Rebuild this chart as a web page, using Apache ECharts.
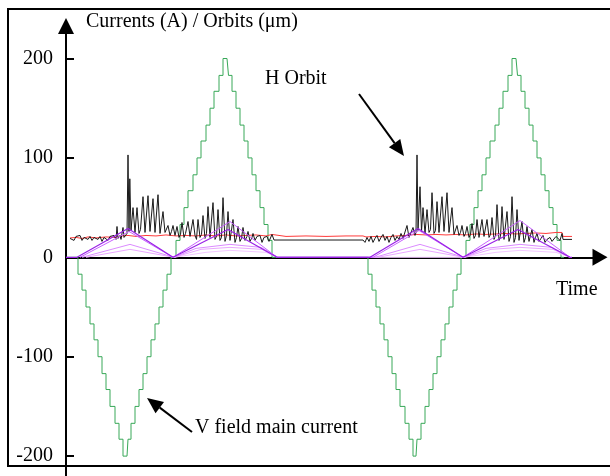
<!DOCTYPE html>
<html>
<head>
<meta charset="utf-8">
<script src="https://cdn.jsdelivr.net/npm/echarts@6/dist/echarts.min.js"></script>
<style>
html,body{margin:0;padding:0;background:#fff;}
#c{width:610px;height:476px;}
</style>
</head>
<body>
<div id="c"></div>
<script>
// ---- data (time in arbitrary units, values in A / µm) ----
const yTicks = [-200, -100, 0, 100, 200];

const vFieldCurrent = [
  [0,0],[12,0],[16,-17],[20,-33],[24,-50],[28,-67],[32,-83],[36,-100],[40,-117],[44,-133],[49,-150],[53,-167],[57,-183],[61,-200],
  [62,-200],[65,-183],[69,-167],[73,-150],[77,-133],[81,-117],[85,-100],[89,-83],[93,-67],[97,-50],[101,-33],[105,-17],[110,0],
  [114,17],[118,33],[122,50],[127,67],[131,83],[135,100],[140,117],[144,133],[148,150],[153,167],[157,183],[161,200],
  [162.5,200],[166,183],[170,167],[174,150],[178,133],[182,117],[186,100],[190,83],[194,67],[198,50],[202,33],[206,17],[211,0],
  [302,0],[306,-17],[310,-33],[314,-50],[318,-67],[322,-83],[326,-100],[330,-117],[334,-133],[339,-150],[343,-167],[347,-183],[350,-200],
  [351,-200],[355,-183],[359,-167],[363,-150],[367,-133],[371,-117],[375,-100],[379,-83],[383,-67],[387,-50],[391,-33],[395,-17],[400,0],
  [404,17],[408,33],[412,50],[416,67],[420,83],[424,100],[429,117],[433,133],[437,150],[442,167],[446,183],[450,200],
  [451.5,200],[455,183],[459,167],[463,150],[467,133],[471,117],[475,100],[479,83],[483,67],[487,50],[491,33],[495,17],[498,0]
];

const hOrbit = [
  [4,19],[6,21],[8,17],[10,21],[12,19],[14,22],[16,17],[18,20],[20,22],[22,18],[24,21],[26,17],[28,20],[30,22],[32,18],[34,21],[36,16],[38,20],[40,22],[42,17],[44,21],[46,19],[48,22],[50,18],
  [51,31],[52,19],[54,22],[55,18],[57,30],[58,20],[60,22],[61,24],
  [62,103],[63,26],[63.8,79],[65,27],[67,50],[69,25],[71,50],[73,24],[74.5,28],[77,61],[79,25],[80,23],[82,62],[84,26],[85.5,24],[87,59],[89,25],[90.5,27],[92,63],[94,24],[95.5,26],[97,46],[99,25],[100.5,23],
  [102,32],[104,22],[105.5,26],[107,32],[109,22],[111,31],[113,20],[114.5,23],[116,35],[118,20],[119.5,24],[122,36],[124,21],[125.5,19],[127,38],[129,22],[130.5,18],[132,38],[134,20],[135.5,23],[137,42],[139,19],[140.5,24],
  [142,51],[144,20],[145.5,22],[147,55],[149,18],[150.5,21],[152,48],[154,17],[155.5,20],[157,60],[159,16],[160.5,22],[162,46],[164,17],[165.5,19],[167,38],[169,15],[170.5,20],[172,31],[174,16],[175.5,19],[177,30],[179,17],[181,21],
  [182,26],[184,16],[186,20],[187,24],[189,17],[191,21],[194,22],[196,15],[198,20],[201,21],[203,16],[206,23],[207,22],[208,17.4],
  [297,17.4],[299,15],[301,20],[303,16],[305,21],[307,15],[309,19],[311,22],[313,16],[315,20],[317,23],[319,17],[321,21],[323,15],[325,20],[327,23],[329,17],[331,21],[333,18],[335,24],[337,19],
  [341,32],[343,20],[345,22],[347,30],[349,22],[350,25],
  [351,103],[352,27],[354,71],[355.5,26],[357,50],[359,24],[361,48],[363,25],[364.5,28],[366,65],[368,24],[369.5,27],[371,56],[373,25],[374.5,23],[376,61],[378,26],[379.5,24],[381,65],[383,25],[384.5,27],[386,50],[388,23],[389.5,25],
  [391,32],[393,22],[394.5,25],[396,32],[398,21],[399.5,24],[401,31],[403,20],[404.5,23],[406,34],[408,19],[409.5,22],[411,38],[413,20],[414.5,18],[416,38],[418,21],[419.5,19],[421,38],[423,20],[424.5,23],[426,40],[428,18],[429.5,22],
  [431,53],[433,17],[434.5,21],[436,51],[438,18],[439.5,20],[441,46],[443,16],[444.5,21],[446,61],[448,15],[449.5,20],[451,48],[453,17],[454.5,19],[456,36],[458,15],[459.5,20],[461,31],[463,16],[464.5,18],[466,28],[468,15],[469.5,20],
  [471,24],[473,16],[475,19],[477,22],[479,15],[481,18],[484,20],[486,16],[488,18],[490,21],[492,23],[494,17],[496,24],[497,18],[506,18]
];

const refOrbit = [
  [4,19.5],[10,20],[16,19],[22,20.5],[30,19.5],[40,20.5],[50,20],[56,21.5],[62,22],[70,21],[80,22],[90,21.5],[100,22.5],[110,21.5],[120,22],[130,21.5],[140,22.5],[150,21.5],[160,22.5],[170,21.5],[180,22],[190,22.5],[200,21.5],[206,23],[208,21.5],
  [220,21],[240,21.5],[260,21],[280,21.5],[297,21.5],[300,20.5],[310,21],[320,20.5],[330,21.5],[340,22],[350,23],[360,22.5],[370,23],[380,22.5],[390,23],[400,22.5],[410,23.5],[420,23],[430,23.5],[440,24],[450,23.5],[460,24],[470,24.5],[480,24],[490,25],[496,25],[497,21],[506,21]
];

const corr1 = [[0,0],[11,0],[62,29],[107,0],[162,28],[211,0],[304,0],[352,29],[397,0],[452,28],[504,0],[506,0]];
const corr2 = [[14,0],[63,26],[107,0],[164,36],[211,0],[307,0],[353,27],[397,0],[454,37],[504,0]];
const corr3 = [[16,0],[64,13],[108,0],[130,9],[164,13],[195,10],[212,0],[309,0],[354,13],[398,0],[420,9],[454,13],[486,10],[504,0]];
const corr4 = [[20,0],[64,8],[108,0],[135,8],[164,10],[196,8],[212,0],[312,0],[354,8],[398,0],[425,8],[454,10],[487,8],[504,0]];
const corr5 = [[108,0],[140,5],[164,7],[200,5],[212,0],[398,0],[430,5],[454,7],[490,5],[504,0]];

// ---- chart ----
const FONT = "'Liberation Serif','Times New Roman',serif";
const chart = echarts.init(document.getElementById('c'), null, {renderer: 'canvas'});

function lineSeries(name, data, color, width, z) {
  return {name, type: 'line', data, symbol: 'none', z: z,
    lineStyle: {color, width}, itemStyle: {color}, silent: true};
}

const series = [
  Object.assign(lineSeries('V field main current', vFieldCurrent, '#38a858', 1, 2), {step: 'start'}),
  lineSeries('Reference', refOrbit, '#ff3b3b', 1, 3),
  lineSeries('H Orbit', hOrbit, '#1a1a1a', 1, 4),
  lineSeries('c5', corr5, '#f2c8ff', 1, 5),
  lineSeries('c4', corr4, '#eaa8ff', 1, 5),
  lineSeries('c3', corr3, '#dc8cff', 1, 5),
  lineSeries('c2', corr2, '#c860ff', 1, 6),
  lineSeries('c1', corr1, '#9a22e6', 1.2, 7)
];

function arrow(x1, y1, x2, y2) {
  const dx = x2 - x1, dy = y2 - y1, L = Math.hypot(dx, dy);
  const ux = dx / L, uy = dy / L, hl = 16, hw = 7;
  const bx = x2 - ux * hl, by = y2 - uy * hl;
  return [
    {type: 'line', shape: {x1, y1, x2: bx, y2: by}, style: {stroke: '#000', lineWidth: 2}},
    {type: 'polygon', shape: {points: [[x2, y2], [bx - uy * hw, by + ux * hw], [bx + uy * hw, by - ux * hw]]}, style: {fill: '#000'}}
  ];
}

const textStyle = {fill: '#000', font: '20px ' + FONT};

chart.setOption({
  animation: false,
  backgroundColor: '#fff',
  grid: {left: 66, right: 10, top: 26, bottom: 0, containLabel: false},
  xAxis: {
    type: 'value', min: 0, max: 534,
    axisLine: {show: true, onZero: true, symbol: ['none', 'triangle'], symbolSize: [17, 15],
      lineStyle: {color: '#000', width: 2}},
    axisTick: {show: false}, axisLabel: {show: false}, splitLine: {show: false}
  },
  yAxis: {
    type: 'value', min: -220, max: 232.7,
    axisLine: {show: true, symbol: ['none', 'triangle'], symbolSize: [16, 16],
      lineStyle: {color: '#000', width: 2}},
    axisTick: {show: true, inside: true, length: 8, customValues: yTicks,
      lineStyle: {color: '#000', width: 2}},
    axisLabel: {show: true, customValues: yTicks, margin: 13, color: '#000',
      fontFamily: FONT, fontSize: 20},
    splitLine: {show: false}
  },
  series: series,
  graphic: [
    {type: 'rect', shape: {x: 8, y: 9, width: 640, height: 457}, style: {fill: 'none', stroke: '#000', lineWidth: 2}, z: 100},
    {type: 'text', x: 86, y: 22, style: Object.assign({text: 'Currents (A) / Orbits (\u03bcm)', verticalAlign: 'middle'}, textStyle), z: 100},
    {type: 'text', x: 265, y: 79, style: Object.assign({text: 'H Orbit', verticalAlign: 'middle'}, textStyle), z: 100},
    {type: 'text', x: 556, y: 290, style: Object.assign({text: 'Time', verticalAlign: 'middle'}, textStyle), z: 100},
    {type: 'text', x: 195, y: 428, style: Object.assign({text: 'V field main current', verticalAlign: 'middle'}, textStyle), z: 100},
    ...arrow(359, 94, 404, 156).map(e => Object.assign(e, {z: 100})),
    ...arrow(192, 432, 147, 398).map(e => Object.assign(e, {z: 100}))
  ]
});
</script>
</body>
</html>
